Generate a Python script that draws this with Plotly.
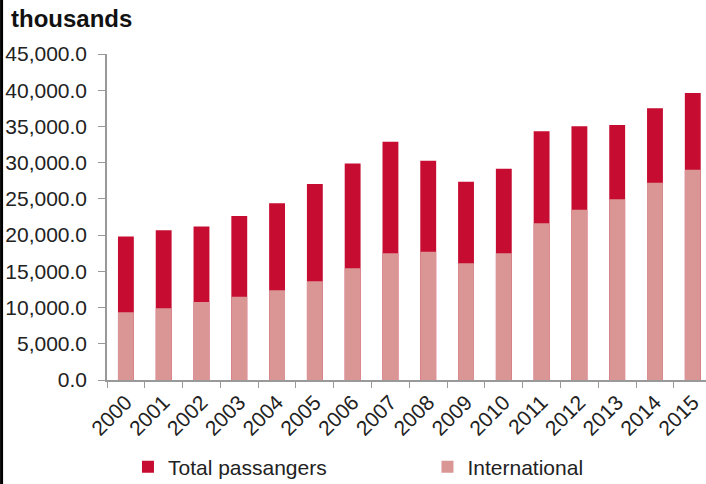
import plotly.graph_objects as go

years = [str(y) for y in range(2000, 2016)]
total = [19800, 20660, 21200, 22640, 24390, 27060, 29900, 32900, 30280, 27380,
         29170, 34330, 35020, 35200, 37500, 39620]
international = [9350, 9900, 10770, 11500, 12380, 13620, 15410, 17490, 17710, 16100,
                 17490, 21630, 23510, 24940, 27240, 29030]
y_ticks = [0, 5000, 10000, 15000, 20000, 25000, 30000, 35000, 40000, 45000]

fig = go.Figure()
fig.add_trace(go.Bar(x=years, y=total, name="Total passangers", legend="legend",
                     marker=dict(color="#C60C30", line=dict(width=0)), width=0.42))
fig.add_trace(go.Bar(x=years, y=international, name="International", legend="legend2",
                     marker=dict(color="#D99694", line=dict(width=0)), width=0.42))

leg_common = dict(orientation="h", y=-0.267, xanchor="left", yanchor="middle",
                  font=dict(size=21, color="#222"), itemwidth=30,
                  bgcolor="rgba(0,0,0,0)")

fig.update_layout(
    width=706, height=484,
    barmode="overlay",
    plot_bgcolor="white", paper_bgcolor="white",
    margin=dict(l=107, r=0, t=54, b=104, autoexpand=False),
    font=dict(family="Liberation Sans, Arial, sans-serif", size=21, color="#222"),
    showlegend=True,
    legend=dict(x=0.035, **leg_common),
    legend2=dict(x=0.535, **leg_common),
    annotations=[dict(text="<b>thousands</b>", xref="paper", yref="paper",
                      x=-0.163, y=1.11, xanchor="left", yanchor="middle",
                      showarrow=False, font=dict(size=24, color="#111"))],
    shapes=[dict(type="line", xref="paper", yref="paper", x0=-0.176, x1=-0.176,
                 y0=-0.5, y1=1.3, line=dict(color="black", width=3))],
)
fig.update_xaxes(type="category", range=[-0.5, 15.35], showline=True, linecolor="#999",
                 linewidth=1.5, ticks="outside", tickson="boundaries", ticklen=6,
                 tickcolor="#999", tickangle=-45, showgrid=False, automargin=False,
                 tickfont=dict(size=21, color="#222"))
fig.update_yaxes(range=[0, 45000], tickvals=y_ticks, tickformat=",.1f",
                 showline=True, linecolor="#999", linewidth=1.5, ticks="outside",
                 ticklen=7, tickcolor="#999", showgrid=False, zeroline=False,
                 automargin=False, ticklabelstandoff=7,
                 tickfont=dict(size=21, color="#222"))

fig.write_html("out.html", config={"displayModeBar": False},
               post_script="document.body.style.margin='0px';document.body.style.overflow='hidden';")
